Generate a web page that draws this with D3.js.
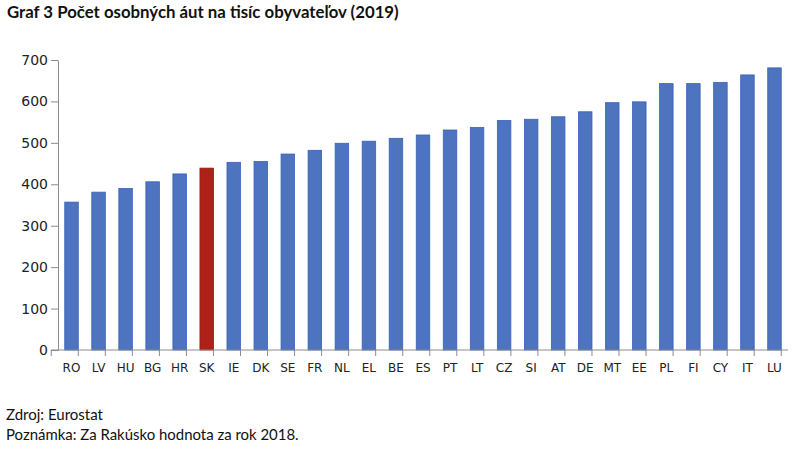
<!DOCTYPE html>
<html><head><meta charset="utf-8">
<script src="https://cdn.jsdelivr.net/npm/d3@7"></script>
<style>body{margin:0;background:#fff}svg{display:block}</style>
</head><body>
<script>
const categories = ["RO","LV","HU","BG","HR","SK","IE","DK","SE","FR","NL","EL","BE","ES","PT","LT","CZ","SI","AT","DE","MT","EE","PL","FI","CY","IT","LU"];
const values = [357,381,390,406,425,439,453,455,473,482,499,504,511,519,531,537,554,557,563,575,597,599,643,643,646,664,681];
const highlight = ["SK"];
const yTicks = [0,100,200,300,400,500,600,700];
const titleText = "Graf 3 Počet osobných áut na tisíc obyvateľov (2019)";
const notes = ["Zdroj: Eurostat","Poznámka: Za Rakúsko hodnota za rok 2018."];

const W=800,H=458;
const svg=d3.select("body").append("svg").attr("width",W).attr("height",H);
const m={left:58,right:12,top:60,bottom:108};
const x=d3.scaleBand().domain(categories).range([m.left,W-m.right]).paddingInner(0.5).paddingOuter(0.25);
const y=d3.scaleLinear().domain([0,700]).range([H-m.bottom,m.top]);

function fit(t,w){const n=t.node();const l=n.getComputedTextLength();const fs=parseFloat(t.attr("font-size"));t.attr("font-size",fs*w/l);}

const title=svg.append("text").attr("x",7).attr("y",18).attr("font-family","Lato").attr("font-weight","bold").attr("font-size",16).attr("fill","#111").text(titleText);
fit(title,392);

// bars
svg.append("g").selectAll("rect").data(categories).join("rect")
 .attr("x",d=>x(d)).attr("width",x.bandwidth())
 .attr("y",(d,i)=>y(values[i])).attr("height",(d,i)=>y(0)-y(values[i]))
 .attr("fill",d=>highlight.includes(d)?"#AE2119":"#4E73BF")
 .attr("stroke",d=>highlight.includes(d)?"#9A1510":"#3563BA").attr("stroke-width",0.8);

// y axis
const ya=svg.append("g").attr("transform",`translate(${m.left},0)`)
 .call(d3.axisLeft(y).tickValues(yTicks).tickSize(7).tickPadding(3).tickSizeOuter(0));
ya.select(".domain").attr("stroke","#8c8c8c");
ya.selectAll(".tick line").attr("stroke","#8c8c8c");
ya.selectAll("text").attr("font-family","DejaVu Sans").attr("font-size",14).attr("fill","#222");

// x axis
const xb=svg.append("g").attr("transform",`translate(0,${y(0)})`);
xb.append("line").attr("x1",m.left-7).attr("x2",W-m.right).attr("stroke","#8c8c8c");
const step=x.step();
const bounds=d3.range(categories.length+1).map(i=>x(categories[0])-x.paddingOuter()*step-x.paddingInner()*step/2+ i*step);
xb.selectAll("line.t").data(bounds).join("line").attr("class","t")
 .attr("x1",d=>d).attr("x2",d=>d).attr("y1",0).attr("y2",6).attr("stroke","#8c8c8c");
xb.selectAll("text").data(categories).join("text")
 .attr("x",d=>x(d)+x.bandwidth()/2).attr("y",22).attr("text-anchor","middle")
 .attr("font-family","DejaVu Sans").attr("font-size",12).attr("fill","#222").text(d=>d);

const n1=svg.append("text").attr("x",6).attr("y",420).attr("font-family","Lato").attr("font-size",14).attr("fill","#111").text(notes[0]);
fit(n1,97);
const n2=svg.append("text").attr("x",6).attr("y",440).attr("font-family","Lato").attr("font-size",14).attr("fill","#111").text(notes[1]);
fit(n2,293);
</script>
</body></html>
